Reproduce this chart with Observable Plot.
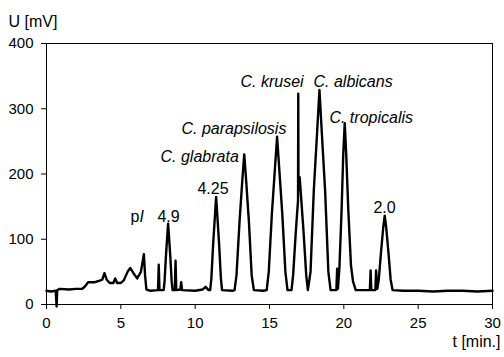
<!DOCTYPE html>
<html>
<head>
<meta charset="utf-8">
<script src="https://cdn.jsdelivr.net/npm/d3@7"></script>
<script src="https://cdn.jsdelivr.net/npm/@observablehq/plot@0.6"></script>
<style>
  html, body { margin: 0; padding: 0; background: #fff; }
  #chart { width: 504px; height: 357px; }
</style>
</head>
<body>
<div id="chart"></div>
<script>
// Electropherogram trace: migration time (min) and detector signal (mV)
const times = [
  0, 0.3, 0.62, 0.68, 0.72, 0.9, 1.5, 2.0, 2.4, 2.6, 2.8, 3.2, 3.5, 3.75, 3.9, 4.05, 4.25, 4.5, 4.62, 4.75,
  5.0, 5.2, 5.45, 5.63, 5.85, 6.1, 6.35, 6.55, 6.63, 6.72, 7.0, 7.5, 7.55, 7.6,
  7.88, 7.94, 8.03, 8.12, 8.18, 8.24, 8.33, 8.42, 8.48,
  8.63, 8.68, 8.73, 9.0, 9.06, 9.12, 10.0, 10.5, 10.7, 10.9,
  11.01, 11.09, 11.21, 11.33, 11.41, 11.49, 11.61, 11.73, 11.81,
  12.5, 12.65, 12.78, 12.98, 13.17, 13.3, 13.43, 13.62, 13.8, 13.95,
  14.6, 14.81, 14.95, 15.16, 15.37, 15.51, 15.65, 15.86, 16.07, 16.21,
  16.48, 16.59, 16.76, 16.92, 16.935, 16.95, 17.03, 17.14, 17.3, 17.47, 17.58,
  17.76, 17.98, 18.21, 18.36, 18.51, 18.74, 18.96, 19.11,
  19.5, 19.55, 19.6, 19.7, 19.85, 19.96, 20.06, 20.16, 20.3, 20.48, 20.62, 20.8,
  21.75, 21.8, 21.85, 22.12, 22.17, 22.25,
  22.35, 22.5, 22.65, 22.75, 22.85, 23.0, 23.15, 23.28,
  24, 25, 26, 27, 28, 29, 30
];
const signal = [
  21, 20, 21, -3, 22, 24, 23, 24, 24, 28, 34, 34, 36, 38, 48, 38, 33, 33, 40, 33,
  33, 37, 50, 56, 48, 40, 50, 77, 45, 23, 21, 22, 61, 22,
  22, 35, 73, 104, 124, 104, 73, 35, 22,
  22, 67, 22, 23, 34, 22, 21, 23, 27, 22,
  22, 40, 93, 136, 165, 136, 93, 40, 22,
  21, 22, 45, 125, 190, 230, 190, 125, 45, 22,
  21, 22, 50, 139, 210, 257, 210, 139, 50, 22,
  22, 45, 108, 160, 323, 175, 195, 160, 108, 45, 22,
  50, 175, 267, 329, 267, 175, 50, 22,
  22, 55, 24, 55, 145, 230, 278, 230, 145, 60, 35, 22,
  22, 52, 22, 22, 52, 24,
  38, 80, 118, 136, 118, 80, 38, 22,
  21, 21, 20, 21, 21, 20, 21
];

// Peak annotations: text and where it sits (time, mV)
const labelText = ["C. krusei", "C. albicans", "C. parapsilosis", "C. tropicalis", "C. glabrata"];
const labelT    = [13.05, 17.96, 9.08, 19.03, 7.67];
const labelU    = [334, 333, 262, 278, 218];

const markerText = ["4.25", "4.9", "2.0"];
const markerT    = [10.15, 7.46, 21.99];
const markerU    = [170, 126, 140];

const xTicks = [0, 5, 10, 15, 20, 25, 30];
const yTicks = [0, 100, 200, 300, 400];

const trace = times.map((t, i) => ({t, u: signal[i]}));
const labels = labelText.map((s, i) => ({s, t: labelT[i], u: labelU[i]}));
const markers = markerText.map((s, i) => ({s, t: markerT[i], u: markerU[i]}));

const font = "'Liberation Sans', Arial, Helvetica, sans-serif";

const chart = Plot.plot({
  width: 504,
  height: 357,
  marginLeft: 46,
  marginRight: 12,
  marginTop: 43,
  marginBottom: 53,
  style: {fontFamily: font, fontSize: "15px", color: "#000", background: "#fff"},
  x: {domain: [0, 30], ticks: xTicks, label: null, tickSize: 5, tickPadding: 8},
  y: {domain: [0, 400], ticks: yTicks, label: null, tickSize: 5, tickPadding: 8},
  marks: [
    Plot.frame({stroke: "#000", strokeWidth: 1}),
    Plot.line(trace, {x: "t", y: "u", stroke: "#000", strokeWidth: 2.4, strokeLinejoin: "round"}),
    Plot.text(labels, {x: "t", y: "u", text: "s", textAnchor: "start", lineAnchor: "bottom",
      fontStyle: "italic", fontSize: 16, fill: "#000"}),
    Plot.text(markers, {x: "t", y: "u", text: "s", textAnchor: "start", lineAnchor: "bottom",
      fontSize: 16, fill: "#000"}),
    // isoelectric point marker "pI"
    Plot.text([{t: 5.65, u: 126}], {x: "t", y: "u", text: () => "p", textAnchor: "start", lineAnchor: "bottom",
      fontSize: 16, fill: "#000"}),
    Plot.text([{t: 6.25, u: 126}], {x: "t", y: "u", text: () => "I", textAnchor: "start", lineAnchor: "bottom",
      fontSize: 16, fontStyle: "italic", fill: "#000"}),
    // axis titles
    Plot.text(["U [mV]"], {frameAnchor: "top-left", dx: -38, dy: -17, textAnchor: "start", lineAnchor: "bottom",
      fontSize: 16, fill: "#000"}),
    Plot.text(["t [min.]"], {frameAnchor: "bottom-right", dx: 8, dy: 42, textAnchor: "end", lineAnchor: "bottom",
      fontSize: 16, fill: "#000"})
  ]
});

document.getElementById("chart").appendChild(chart);
</script>
</body>
</html>
